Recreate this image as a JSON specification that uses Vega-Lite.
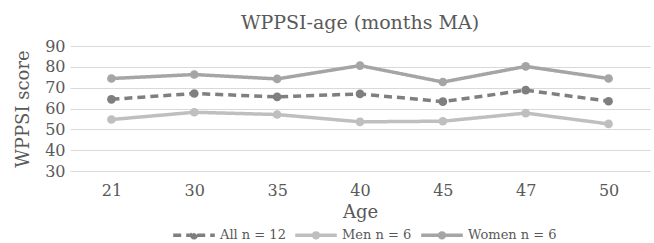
{
  "$schema": "https://vega.github.io/schema/vega-lite/v6.json",
  "width": 580,
  "height": 125,
  "autosize": "none",
  "padding": {"left": 70, "top": 46, "right": 4, "bottom": 72},
  "background": "white",
  "config": {
    "font": "DejaVu Serif",
    "view": {"stroke": null}
  },
  "title": {
    "text": "WPPSI-age (months MA)",
    "fontSize": 19,
    "fontWeight": "normal",
    "color": "#595959",
    "offset": 5,
    "anchor": "middle"
  },
  "data": {
    "values": [
      {"age": "21", "series": "All n = 12", "score": 64.4},
      {"age": "30", "series": "All n = 12", "score": 67.2},
      {"age": "35", "series": "All n = 12", "score": 65.6},
      {"age": "40", "series": "All n = 12", "score": 67.0},
      {"age": "45", "series": "All n = 12", "score": 63.3},
      {"age": "47", "series": "All n = 12", "score": 68.8},
      {"age": "50", "series": "All n = 12", "score": 63.5},
      {"age": "21", "series": "Men n = 6", "score": 54.7},
      {"age": "30", "series": "Men n = 6", "score": 58.2},
      {"age": "35", "series": "Men n = 6", "score": 57.1},
      {"age": "40", "series": "Men n = 6", "score": 53.6},
      {"age": "45", "series": "Men n = 6", "score": 53.9},
      {"age": "47", "series": "Men n = 6", "score": 57.8},
      {"age": "50", "series": "Men n = 6", "score": 52.6},
      {"age": "21", "series": "Women n = 6", "score": 74.4},
      {"age": "30", "series": "Women n = 6", "score": 76.3},
      {"age": "35", "series": "Women n = 6", "score": 74.2},
      {"age": "40", "series": "Women n = 6", "score": 80.6},
      {"age": "45", "series": "Women n = 6", "score": 72.7},
      {"age": "47", "series": "Women n = 6", "score": 80.2},
      {"age": "50", "series": "Women n = 6", "score": 74.4}
    ]
  },
  "encoding": {
    "x": {
      "field": "age",
      "type": "ordinal",
      "sort": null,
      "scale": {"type": "point", "padding": 0.5},
      "axis": {
        "title": "Age",
        "labelAngle": 0,
        "labelFontSize": 16,
        "labelColor": "#595959",
        "labelPadding": 11,
        "titleFontSize": 18,
        "titleFontWeight": "normal",
        "titleColor": "#595959",
        "titlePadding": 5,
        "domain": false,
        "ticks": false,
        "grid": false
      }
    },
    "y": {
      "field": "score",
      "type": "quantitative",
      "scale": {"domain": [30, 90], "nice": false, "zero": false},
      "axis": {
        "title": "WPPSI score",
        "values": [30, 40, 50, 60, 70, 80, 90],
        "labelFontSize": 16,
        "labelColor": "#595959",
        "labelPadding": 5,
        "titleFontSize": 18,
        "titleFontWeight": "normal",
        "titleColor": "#595959",
        "titlePadding": 12,
        "domain": false,
        "ticks": false,
        "gridColor": "#d9d9d9",
        "gridWidth": 1
      }
    },
    "color": {
      "field": "series",
      "type": "nominal",
      "scale": {
        "domain": ["All n = 12", "Men n = 6", "Women n = 6"],
        "range": ["#7f7f7f", "#bfbfbf", "#a5a5a5"]
      },
      "legend": {
        "title": null,
        "orient": "none",
        "legendX": 114,
        "legendY": 179,
        "direction": "horizontal",
        "labelFontSize": 13,
        "labelColor": "#595959",
        "symbolType": "M-2.6,0H-0.4M0.4,0H2.6M-0.3,0A0.3,0.3 0 1,0 0.3,0A0.3,0.3 0 1,0 -0.3,0",
        "symbolSize": 256,
        "symbolStrokeWidth": 3.5,
        "columnPadding": 2,
        "padding": 0,
        "labelOffset": 16
      }
    }
  },
  "layer": [
    {
      "mark": {"type": "line", "strokeWidth": 3.5},
      "encoding": {
        "strokeDash": {
          "field": "series",
          "type": "nominal",
          "scale": {
            "domain": ["All n = 12", "Men n = 6", "Women n = 6"],
            "range": [[8, 5], [1, 0], [1, 0]]
          },
          "legend": {
            "title": null,
            "orient": "none",
            "legendX": 114,
            "legendY": 179,
            "direction": "horizontal",
            "labelFontSize": 13,
            "labelColor": "#595959",
            "symbolType": "M-2.6,0H-0.4M0.4,0H2.6M-0.3,0A0.3,0.3 0 1,0 0.3,0A0.3,0.3 0 1,0 -0.3,0",
            "symbolSize": 256,
            "symbolStrokeWidth": 3.5,
            "columnPadding": 2,
            "padding": 0,
            "labelOffset": 16
          }
        }
      }
    },
    {
      "mark": {"type": "circle", "size": 75, "opacity": 1}
    }
  ]
}
